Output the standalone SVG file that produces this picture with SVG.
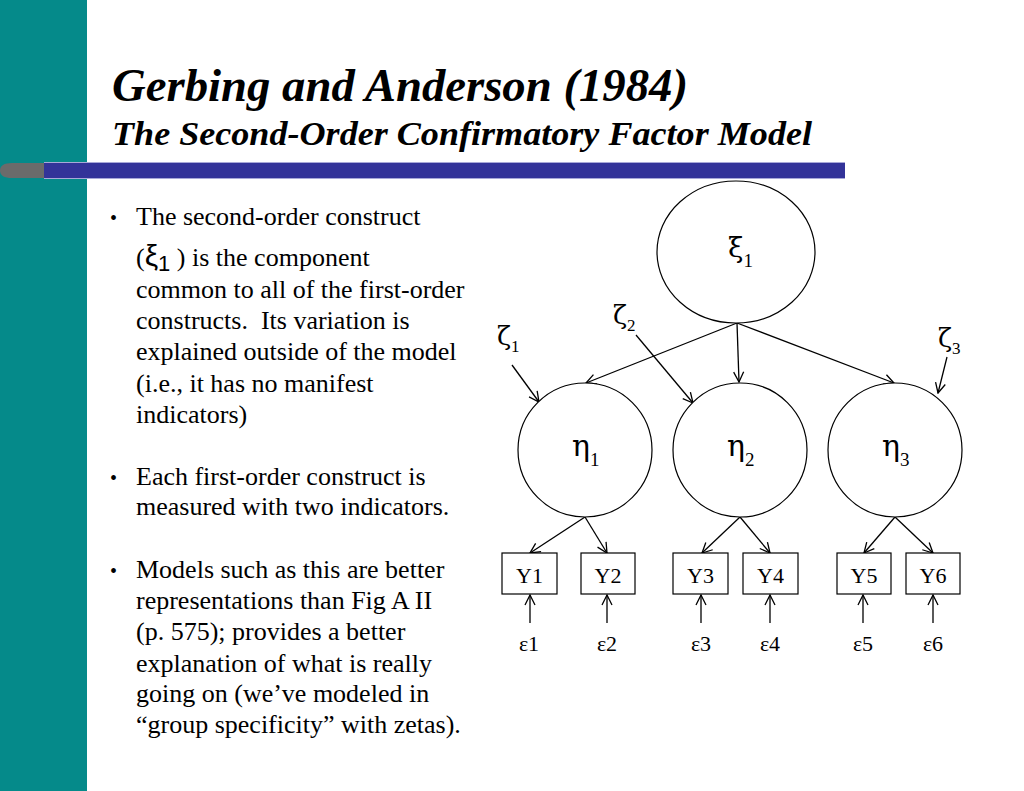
<svg xmlns="http://www.w3.org/2000/svg" width="1024" height="791" viewBox="0 0 1024 791">
<style>
.t{font-family:"Liberation Serif","Times New Roman",serif;fill:#000}
.body{font-size:26px}
.g{font-family:"DejaVu Serif","Liberation Serif",serif}
.arr{stroke:#000;stroke-width:1.3;fill:none;marker-end:url(#ah)}
.node{stroke:#000;stroke-width:1.2;fill:#fff}
</style>
<defs>
<marker id="ah" viewBox="0 0 12 12" refX="11" refY="6" markerWidth="12" markerHeight="12" markerUnits="userSpaceOnUse" orient="auto">
<path d="M1,1 L11,6 L1,11" fill="none" stroke="#000" stroke-width="1.3"/>
</marker>
</defs>
<rect x="0" y="0" width="1024" height="791" fill="#fff"/>
<rect x="0" y="0" width="87" height="791" fill="#058a8a"/>
<rect x="44" y="162" width="801" height="1" fill="#a8a8d8"/>
<rect x="44" y="163" width="801" height="15" fill="#333399"/>
<rect x="44" y="178" width="801" height="1" fill="#a8a8d8"/>
<path d="M44,163 L12,163 Q0,163 0,170.5 Q0,178 12,178 L44,178 Z" fill="#6b6b6b"/>

<g id="title">
<text class="t" x="112" y="101" font-size="46" font-weight="bold" font-style="italic" textLength="576" lengthAdjust="spacingAndGlyphs">Gerbing and Anderson (1984)</text>
<text class="t" x="112" y="145" font-size="34" font-weight="bold" font-style="italic" textLength="700" lengthAdjust="spacingAndGlyphs">The Second-Order Confirmatory Factor Model</text>
</g>

<g id="bullets" class="t body">
<text x="110" y="225" font-size="20">•</text>
<text x="136" y="225">The second-order construct</text>
<text x="136" y="266">(<tspan font-family="'Liberation Sans',Arial,sans-serif" font-size="30">ξ</tspan><tspan font-family="'Liberation Sans',Arial,sans-serif" font-size="22" dy="5">1</tspan><tspan dy="-5"> ) is the component</tspan></text>
<text x="136" y="298">common to all of the first-order</text>
<text x="136" y="329">constructs.&#160; Its variation is</text>
<text x="136" y="360">explained outside of the model</text>
<text x="136" y="392">(i.e., it has no manifest</text>
<text x="136" y="423">indicators)</text>
<text x="110" y="485" font-size="20">•</text>
<text x="136" y="485">Each first-order construct is</text>
<text x="136" y="515">measured with two indicators.</text>
<text x="110" y="578" font-size="20">•</text>
<text x="136" y="578">Models such as this are better</text>
<text x="136" y="609">representations than Fig A II</text>
<text x="136" y="640">(p. 575); provides a better</text>
<text x="136" y="672">explanation of what is really</text>
<text x="136" y="702">going on (we’ve modeled in</text>
<text x="136" y="733">“group specificity” with zetas).</text>
</g>

<g id="connectors">
<line class="arr" x1="737" y1="323" x2="586" y2="383"/>
<line class="arr" x1="737" y1="323" x2="739" y2="382"/>
<line class="arr" x1="737" y1="323" x2="894" y2="383"/>
<line class="arr" x1="512" y1="365" x2="539" y2="402"/>
<line class="arr" x1="636" y1="335" x2="693" y2="403"/>
<line class="arr" x1="947" y1="357" x2="938" y2="393"/>
<line class="arr" x1="585" y1="517" x2="530" y2="553"/>
<line class="arr" x1="585" y1="517" x2="607" y2="553"/>
<line class="arr" x1="740" y1="517" x2="702" y2="553"/>
<line class="arr" x1="740" y1="517" x2="770" y2="553"/>
<line class="arr" x1="895" y1="517" x2="864" y2="553"/>
<line class="arr" x1="895" y1="517" x2="933" y2="553"/>
<line class="arr" x1="530" y1="623" x2="530" y2="595"/>
<line class="arr" x1="607" y1="623" x2="607" y2="595"/>
<line class="arr" x1="701" y1="623" x2="701" y2="595"/>
<line class="arr" x1="770" y1="623" x2="770" y2="595"/>
<line class="arr" x1="863" y1="623" x2="863" y2="595"/>
<line class="arr" x1="933" y1="623" x2="933" y2="595"/>
</g>

<g id="xi1">
<ellipse class="node" cx="736" cy="252" rx="79" ry="71"/>
<text class="t" x="728" y="257" font-size="28"><tspan class="g">ξ</tspan><tspan font-size="19" dy="10">1</tspan></text>
</g>
<g id="eta1">
<circle class="node" cx="585" cy="450" r="67"/>
<text class="t" x="572" y="456" font-size="30"><tspan class="g">η</tspan><tspan font-size="19" dy="10">1</tspan></text>
</g>
<g id="eta2">
<circle class="node" cx="740" cy="450" r="67"/>
<text class="t" x="727" y="456" font-size="30"><tspan class="g">η</tspan><tspan font-size="19" dy="10">2</tspan></text>
</g>
<g id="eta3">
<circle class="node" cx="895" cy="450" r="67"/>
<text class="t" x="882" y="456" font-size="30"><tspan class="g">η</tspan><tspan font-size="19" dy="10">3</tspan></text>
</g>
<g id="zeta1"><text class="t" x="497" y="345" font-size="26"><tspan class="g">ζ</tspan><tspan font-size="17" dy="7">1</tspan></text></g>
<g id="zeta2"><text class="t" x="613" y="324" font-size="26"><tspan class="g">ζ</tspan><tspan font-size="17" dy="7">2</tspan></text></g>
<g id="zeta3"><text class="t" x="938" y="347" font-size="26"><tspan class="g">ζ</tspan><tspan font-size="17" dy="7">3</tspan></text></g>

<g id="Y1"><rect class="node" x="502" y="553" width="55" height="41"/><text class="t" x="529.5" y="583" font-size="22" text-anchor="middle">Y1</text></g>
<g id="Y2"><rect class="node" x="581" y="553" width="54" height="41"/><text class="t" x="608" y="583" font-size="22" text-anchor="middle">Y2</text></g>
<g id="Y3"><rect class="node" x="673" y="553" width="55" height="41"/><text class="t" x="700.5" y="583" font-size="22" text-anchor="middle">Y3</text></g>
<g id="Y4"><rect class="node" x="743" y="553" width="55" height="41"/><text class="t" x="770.5" y="583" font-size="22" text-anchor="middle">Y4</text></g>
<g id="Y5"><rect class="node" x="837" y="553" width="54" height="41"/><text class="t" x="864" y="583" font-size="22" text-anchor="middle">Y5</text></g>
<g id="Y6"><rect class="node" x="906" y="553" width="54" height="41"/><text class="t" x="933" y="583" font-size="22" text-anchor="middle">Y6</text></g>

<g id="e1"><text class="t" x="529" y="651" font-size="22" text-anchor="middle">ε1</text></g>
<g id="e2"><text class="t" x="607" y="651" font-size="22" text-anchor="middle">ε2</text></g>
<g id="e3"><text class="t" x="701" y="651" font-size="22" text-anchor="middle">ε3</text></g>
<g id="e4"><text class="t" x="770" y="651" font-size="22" text-anchor="middle">ε4</text></g>
<g id="e5"><text class="t" x="863" y="651" font-size="22" text-anchor="middle">ε5</text></g>
<g id="e6"><text class="t" x="933" y="651" font-size="22" text-anchor="middle">ε6</text></g>
</svg>
